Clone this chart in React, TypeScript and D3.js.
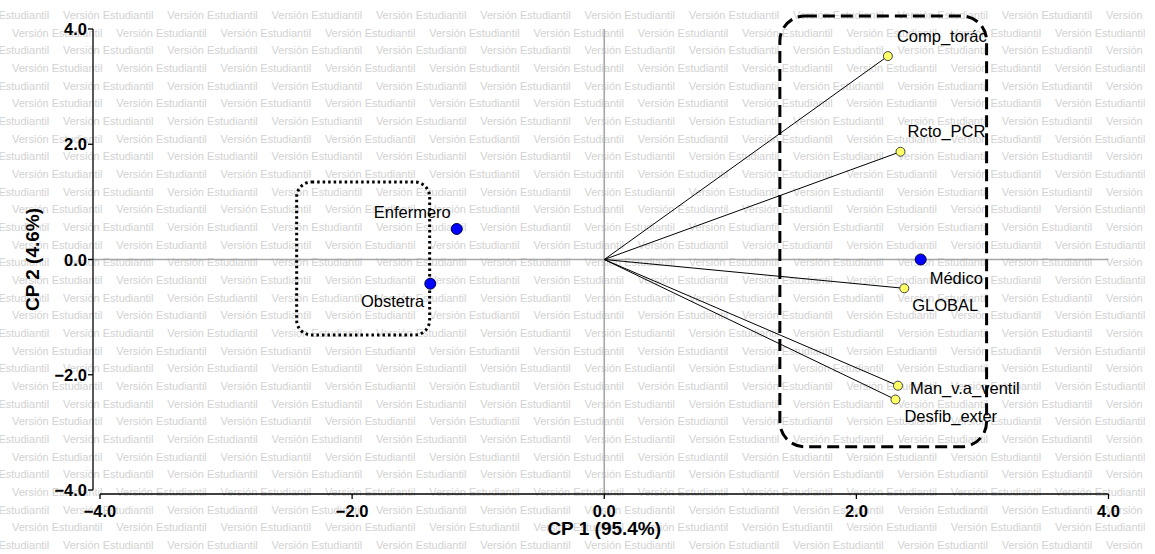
import React from "react";
import * as d3 from "d3";

// ---- data ----
const obsNames = ["Enfermero", "Obstetra", "Médico"];
const obsX = [-1.17, -1.38, 2.51];
const obsY = [0.53, -0.42, 0.0];

const varNames = ["Comp_torác", "Rcto_PCR", "GLOBAL", "Man_v.a_ventil", "Desfib_exter"];
const varX = [2.25, 2.35, 2.38, 2.33, 2.31];
const varY = [3.53, 1.87, -0.5, -2.19, -2.43];

const xTicks = [-4, -2, 0, 2, 4];
const yTicks = [-4, -2, 0, 2, 4];
const xTitle = "CP 1 (95.4%)";
const yTitle = "CP 2 (4.6%)";
const watermark = "Versión Estudiantil";

// group boxes (data units)
const dottedBox = { x0: -2.44, x1: -1.385, y0: -1.31, y1: 1.345 };
const dashedBox = { x0: 1.393, x1: 3.033, y0: -3.25, y1: 4.226 };

// ---- layout (label offsets in px) ----
const obsLabelOffsets = [
  { dx: -6, dy: -11, anchor: "end" },
  { dx: -6, dy: 23, anchor: "end" },
  { dx: 9, dy: 24, anchor: "start" },
];
const varLabelOffsets = [
  { dx: 9, dy: -14 },
  { dx: 7, dy: -15 },
  { dx: 8, dy: 23 },
  { dx: 12, dy: 8 },
  { dx: 9, dy: 22 },
];

const W = 1155;
const H = 554;
const FONT = "'Liberation Sans', Arial, sans-serif";

export default function App() {
  const x = d3.scaleLinear().domain([-4, 4]).range([100, 1108.5]);
  const y = d3.scaleLinear().domain([-4, 4]).range([490, 29]);
  const fmt = d3.format(".1f");
  const yAxisX = 93;
  const xAxisY = 494;

  const rows = d3.range(0, 32);
  const cols = d3.range(-1, 12);
  const period = 104.3;

  return (
    <svg
      width={W}
      height={H}
      style={{ position: "absolute", left: 0, top: 0, background: "#fff" }}
      fontFamily={FONT}
    >
      <defs>
        <clipPath id="wm">
          <rect x={0} y={0} width={1145} height={H} />
        </clipPath>
      </defs>
      {/* watermark */}
      <g clipPath="url(#wm)" fill="#d2d2d2" fontSize={11}>
        {rows.map((r) =>
          cols.map((c) => (
            <text
              key={r + "-" + c}
              x={(r % 2 === 0 ? -41.3 : 12) + c * period}
              y={15 + r * 17.67}
              dominantBaseline="central"
            >
              {watermark}
            </text>
          ))
        )}
      </g>

      {/* reference lines */}
      <line x1={yAxisX} x2={x(4)} y1={y(0)} y2={y(0)} stroke="#a6a6a6" strokeWidth={1.6} />
      <line x1={x(0)} x2={x(0)} y1={y(4)} y2={xAxisY} stroke="#a6a6a6" strokeWidth={1.6} />

      {/* y axis */}
      <line x1={yAxisX} x2={yAxisX} y1={y(4)} y2={y(-4)} stroke="#000" strokeWidth={1.3} />
      {yTicks.map((t) => (
        <g key={"yt" + t}>
          <line x1={yAxisX - 5} x2={yAxisX} y1={y(t)} y2={y(t)} stroke="#000" strokeWidth={1.3} />
          <text
            x={yAxisX - 6}
            y={y(t)}
            textAnchor="end"
            dominantBaseline="central"
            fontWeight="bold"
            fontSize={16.5}
          >
            {fmt(t)}
          </text>
        </g>
      ))}

      {/* x axis */}
      <line x1={x(-4)} x2={x(4)} y1={xAxisY} y2={xAxisY} stroke="#000" strokeWidth={1.3} />
      {xTicks.map((t) => (
        <g key={"xt" + t}>
          <line x1={x(t)} x2={x(t)} y1={xAxisY} y2={xAxisY + 5} stroke="#000" strokeWidth={1.3} />
          <text
            x={x(t)}
            y={xAxisY + 17}
            textAnchor="middle"
            dominantBaseline="central"
            fontWeight="bold"
            fontSize={16.5}
          >
            {fmt(t)}
          </text>
        </g>
      ))}

      {/* axis titles */}
      <text x={x(0)} y={535} textAnchor="middle" fontWeight="bold" fontSize={19}>
        {xTitle}
      </text>
      <text
        transform={`translate(32, ${y(0)}) rotate(-90)`}
        textAnchor="middle"
        dominantBaseline="central"
        fontWeight="bold"
        fontSize={19}
      >
        {yTitle}
      </text>

      {/* group boxes */}
      <rect
        x={x(dottedBox.x0)}
        y={y(dottedBox.y1)}
        width={x(dottedBox.x1) - x(dottedBox.x0)}
        height={y(dottedBox.y0) - y(dottedBox.y1)}
        rx={15}
        fill="none"
        stroke="#000"
        strokeWidth={3}
        strokeDasharray="2.5,3"
      />
      <rect
        x={x(dashedBox.x0)}
        y={y(dashedBox.y1)}
        width={x(dashedBox.x1) - x(dashedBox.x0)}
        height={y(dashedBox.y0) - y(dashedBox.y1)}
        rx={25}
        fill="none"
        stroke="#000"
        strokeWidth={3}
        strokeDasharray="12,6"
      />

      {/* variable vectors */}
      {varNames.map((n, i) => (
        <line
          key={"v" + n}
          x1={x(0)}
          y1={y(0)}
          x2={x(varX[i])}
          y2={y(varY[i])}
          stroke="#000"
          strokeWidth={1}
        />
      ))}
      {varNames.map((n, i) => (
        <g key={"vp" + n}>
          <circle cx={x(varX[i])} cy={y(varY[i])} r={4.5} fill="#ffff66" stroke="#444" strokeWidth={1} />
          <text
            x={x(varX[i]) + varLabelOffsets[i].dx}
            y={y(varY[i]) + varLabelOffsets[i].dy}
            fontSize={16.5}
            fill="#000"
          >
            {n}
          </text>
        </g>
      ))}

      {/* observations */}
      {obsNames.map((n, i) => (
        <g key={"o" + n}>
          <circle cx={x(obsX[i])} cy={y(obsY[i])} r={5.5} fill="#0000ff" stroke="#000044" strokeWidth={1} />
          <text
            x={x(obsX[i]) + obsLabelOffsets[i].dx}
            y={y(obsY[i]) + obsLabelOffsets[i].dy}
            textAnchor={obsLabelOffsets[i].anchor as any}
            fontSize={16.5}
            fill="#000"
          >
            {n}
          </text>
        </g>
      ))}
    </svg>
  );
}
